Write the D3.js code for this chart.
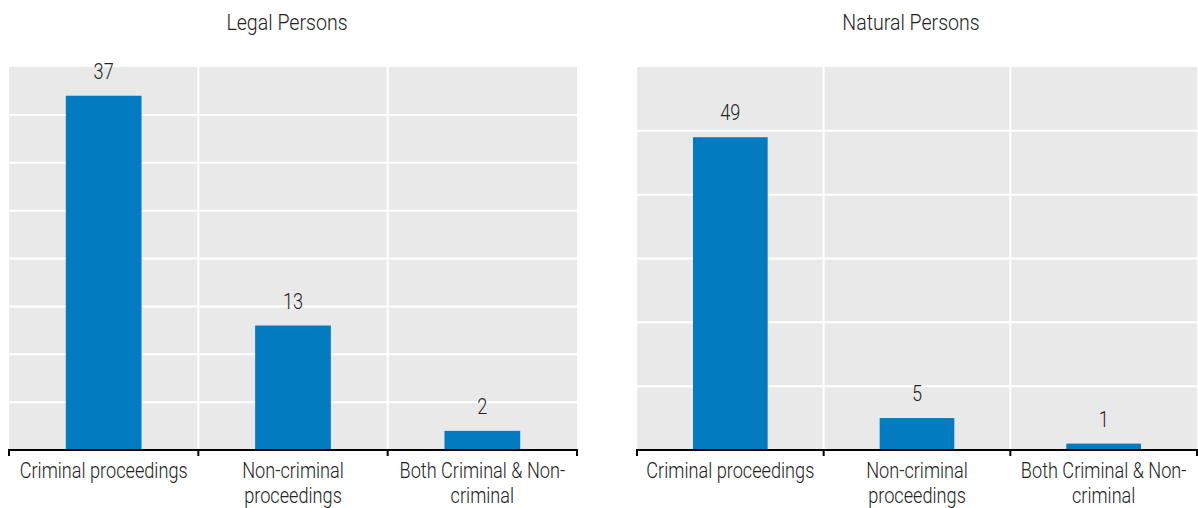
<!DOCTYPE html>
<html><head><meta charset="utf-8">
<script src="https://cdn.jsdelivr.net/npm/d3@7"></script>
<style>
html,body{margin:0;padding:0;background:#fff;}
text{font-family:"Roboto","Liberation Sans",sans-serif;font-weight:300;fill:#222;}
</style></head>
<body>
<svg id="chart" width="1198" height="508"></svg>
<script>
const categories = ["Criminal proceedings", "Non-criminal proceedings", "Both Criminal & Non-criminal"];
const panelTitles = ["Legal Persons", "Natural Persons"];
const legalValues = [37, 13, 2];
const naturalValues = [49, 5, 1];
const legalTicks = [0, 5, 10, 15, 20, 25, 30, 35, 40];
const naturalTicks = [0, 10, 20, 30, 40, 50, 60];

(function() {
const svg = d3.select("#chart");
const panels = [
  {title: panelTitles[0], values: legalValues, ticks: legalTicks, x0: 9, x1: 577},
  {title: panelTitles[1], values: naturalValues, ticks: naturalTicks, x0: 637, x1: 1197}
];
const plotTop = 67, plotBottom = 450;
const FS = 22, SX = 0.825, SX_TITLE = 0.89;

function narrowText(parent, cx, cy, str, sx) {
  const g = parent.append("g").attr("transform", `translate(${cx},${cy}) scale(${sx},1)`);
  return g.append("text").attr("x", 0).attr("y", 0).attr("text-anchor", "middle")
    .attr("font-size", FS).text(str);
}

function wrapLabel(t, width) {
  const full = t.text();
  const pieces = full.split(/(?<=-)|(?=\s)/);
  t.text(null);
  const lines = [];
  let cur = "";
  const tmp = t.append("tspan");
  for (const p of pieces) {
    const cand = cur + p;
    tmp.text(cand.trim());
    if (tmp.node().getComputedTextLength() * SX > width && cur.trim().length) {
      lines.push(cur.trim());
      cur = p.trimStart();
    } else cur = cand;
  }
  if (cur.trim().length) lines.push(cur.trim());
  tmp.remove();
  lines.forEach((ln, i) => {
    t.append("tspan").attr("x", 0).attr("dy", i === 0 ? 0 : 25).text(ln);
  });
}

panels.forEach(p => {
  const x = d3.scaleBand().domain(categories).range([p.x0, p.x1]).paddingInner(0).paddingOuter(0);
  const y = d3.scaleLinear().domain([p.ticks[0], p.ticks[p.ticks.length - 1]]).range([plotBottom, plotTop]);
  const g = svg.append("g");

  g.append("rect").attr("x", p.x0).attr("y", plotTop).attr("width", p.x1 - p.x0).attr("height", plotBottom - plotTop).attr("fill", "#e9e9e9");

  g.selectAll(".hg").data(p.ticks.slice(1, -1)).enter().append("line")
    .attr("x1", p.x0).attr("x2", p.x1).attr("y1", d => y(d)).attr("y2", d => y(d))
    .attr("stroke", "#fff").attr("stroke-width", 2);
  g.selectAll(".vg").data(categories.slice(1)).enter().append("line")
    .attr("x1", d => x(d)).attr("x2", d => x(d)).attr("y1", plotTop).attr("y2", plotBottom)
    .attr("stroke", "#fff").attr("stroke-width", 2);

  const bw = x.bandwidth() * 0.4;
  g.selectAll(".bar").data(p.values).enter().append("rect")
    .attr("x", (d, i) => x(categories[i]) + x.bandwidth() / 2 - bw / 2)
    .attr("width", bw)
    .attr("y", d => y(d)).attr("height", d => plotBottom - y(d))
    .attr("fill", "#037bc1");

  p.values.forEach((v, i) => {
    narrowText(g, x(categories[i]) + x.bandwidth() / 2, y(v) - 17, String(v), SX);
  });

  const boundaries = categories.map(c => x(c)).concat([p.x1]);
  g.append("line").attr("x1", p.x0).attr("x2", p.x1).attr("y1", plotBottom).attr("y2", plotBottom)
    .attr("stroke", "#000").attr("stroke-width", 2);
  g.selectAll(".tk").data(boundaries).enter().append("line")
    .attr("x1", d => d).attr("x2", d => d).attr("y1", plotBottom - 1).attr("y2", plotBottom + 6)
    .attr("stroke", "#000").attr("stroke-width", 2);

  categories.forEach(c => {
    const t = narrowText(g, x(c) + x.bandwidth() / 2, 478, c, SX);
    wrapLabel(t, 178);
  });

  narrowText(g, (p.x0 + p.x1) / 2 - 6, 30, p.title, SX_TITLE);
});
})();
</script>
</body></html>
